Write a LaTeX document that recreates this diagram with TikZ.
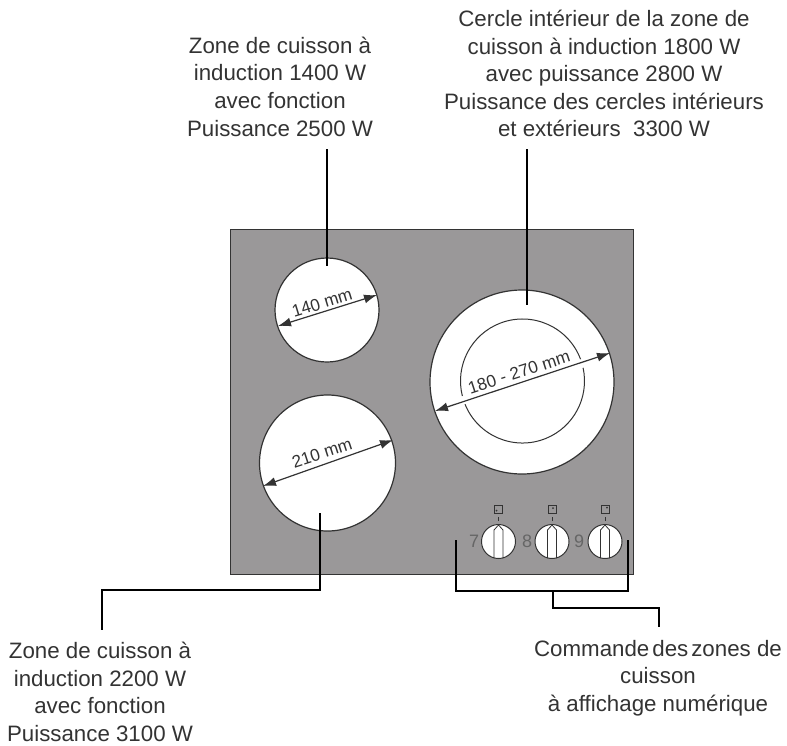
\documentclass[tikz,border=0pt]{standalone}
\usepackage{fontspec}
\setmainfont{Liberation Sans}
\usetikzlibrary{arrows.meta}
\definecolor{panelgrey}{HTML}{9A9899}
\definecolor{edgegrey}{HTML}{333333}
\tikzset{
  x=1pt,y=-1pt,
  panel/.style={fill=panelgrey,draw=edgegrey,line width=1pt},
  zone/.style={circle,fill=white,draw=edgegrey,line width=1.2pt,inner sep=0pt,minimum size=#1},
  knob/.style={circle,fill=white,draw=edgegrey,line width=1pt,inner sep=0pt,minimum size=34pt},
  leader/.style={draw=black,line width=1.6pt},
  dim/.style={draw=edgegrey,line width=1.2pt,{Latex[length=13pt,width=9pt]}-{Latex[length=13pt,width=9pt]}},
  caption/.style={align=center,font=\fontsize{22.3}{27.6}\selectfont,text=black!80,inner sep=0pt},
  dimtext/.style={font=\fontsize{17.2}{19}\selectfont,text=black!80,inner sep=0pt},
  digit/.style={font=\fontsize{18}{18}\selectfont,text=black!60,inner sep=0pt},
  pointer/.style={draw=edgegrey,line width=.8pt},
  mini/.style={draw=edgegrey,line width=.7pt,fill=panelgrey,minimum size=8pt,inner sep=0pt}
}
\begin{document}
\begin{tikzpicture}
\useasboundingbox (0,0) rectangle (787,745);
\path[panel] (230.5,229) rectangle (633,574);
\node[zone=104pt] (small) at (327,310) {};
\node[zone=184pt] (big) at (522,382) {};
\node[zone=136pt] (low) at (327.5,463) {};
\draw[edgegrey,line width=1pt] (522.5,381) ++(-20.6:62) arc[start angle=-20.6,end angle=-194,radius=62];
\draw[edgegrey,line width=1pt] (522.5,381) ++(-202:62) arc[start angle=-202,end angle=-372.3,radius=62];
% dims
\coordinate (sa) at (278,326); \coordinate (sb) at (377,295);
\coordinate (ba) at (435,411); \coordinate (bb) at (610,353);
\coordinate (la) at (263,486); \coordinate (lb) at (393,440);
\draw[dim] (sa) -- (sb);
\draw[dim] (ba) -- (bb);
\draw[dim] (la) -- (lb);
\node[dimtext,rotate=17] (t140) at (322,303) {140 mm};
\node[dimtext,rotate=18] (t180) at (519,372) {180 - 270 mm};
\node[dimtext,rotate=18] (t210) at (322,453) {210 mm};
% knobs
\foreach \n/\cx/\lab/\lx in {k7/498.5/7/474,k8/552/8/527,k9/605/9/579}{
  \node[knob] (\n) at (\cx,541.5) {};
  \draw[pointer] (\cx-4.5,558) -- (\cx-4.5,530) -- (\cx,525) -- (\cx+4.5,530) -- (\cx+4.5,558);
  \draw[pointer] (\cx,517) -- (\cx,521);
  \node[mini] (m\n) at (\cx,509) {};
  \node[digit] (d\n) at (\lx,541) {\lab};
}
\fill[edgegrey] (496.5,510.5) circle (1pt) (553,508) circle (1pt) (607,507.5) circle (1pt);
% leaders
\coordinate (c1) at (327,149); \coordinate (c1e) at (327,266);
\draw[leader] (c1) -- (c1e);
\coordinate (c2) at (527,149); \coordinate (c2e) at (527,305);
\draw[leader] (c2) -- (c2e);
\coordinate (c3) at (320,513); \coordinate (c3e) at (102,630);
\draw[leader] (c3) -- (320,590) -- (102,590) -- (c3e);
\coordinate (c4) at (456,540); \coordinate (c5) at (628,540);
\draw[leader] (c4) -- (456,591) -- (628,591) -- (c5);
\coordinate (c6) at (553,591); \coordinate (c7) at (659,627);
\draw[leader] (c6) -- (553,608) -- (659,608) -- (c7);
% captions
\node[caption] (top1) at (280,86.5) {Zone de cuisson à\\induction 1400 W\\avec fonction\\Puissance 2500 W};
\node[caption] (top2) at (604,73.5) {Cercle intérieur de la zone de\\cuisson à induction 1800 W\\avec puissance 2800 W\\Puissance des cercles intérieurs\\et extérieurs~~3300 W};
\node[caption] (bot1) at (100,692) {Zone de cuisson à\\induction 2200 W\\avec fonction\\Puissance 3100 W};
\node[caption] (bot2) at (658,678) {Commande\hspace{3pt}des\hspace{3pt}zones de\\cuisson\\à affichage numérique};
\end{tikzpicture}
\end{document}
